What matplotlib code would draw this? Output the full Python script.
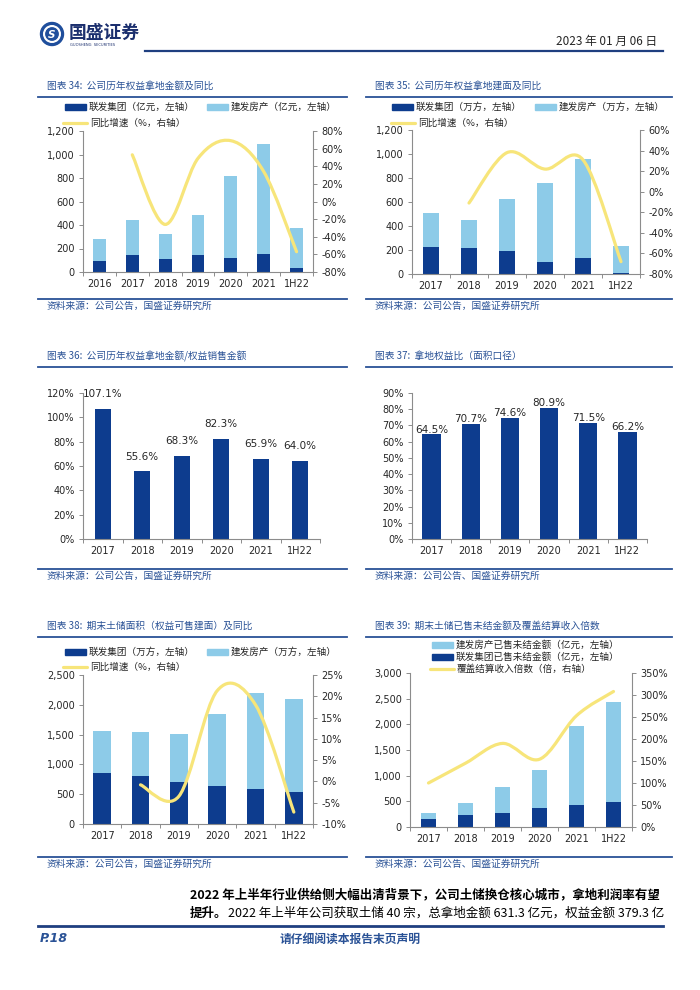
import numpy as np
import matplotlib
matplotlib.use("Agg")
import matplotlib.pyplot as plt
from matplotlib.path import Path
from matplotlib.patches import PathPatch, Rectangle, Circle
from matplotlib.ticker import FuncFormatter, FixedLocator

plt.rcParams['font.family'] = ['Noto Sans CJK SC', 'DejaVu Sans']

# ---- data ----
cats7 = ['2016', '2017', '2018', '2019', '2020', '2021', '1H22']
cats6 = ['2017', '2018', '2019', '2020', '2021', '1H22']

# 图表34 权益拿地金额（亿元）
c34_lianfa = [94, 148, 114, 142, 122, 150, 31]
c34_jianfa = [190, 292, 210, 344, 698, 938, 347]
c34_yoy = [np.nan, 53, -26, 49, 69, 34, -57]

# 图表35 权益拿地建面（万方）
c35_lianfa = [222, 214, 189, 103, 131, 11]
c35_jianfa = [284, 236, 433, 653, 825, 222]
c35_yoy = [np.nan, -11, 38, 22, 31, -68]

# 图表36 权益拿地金额/权益销售金额
c36_ratio = [107.1, 55.6, 68.3, 82.3, 65.9, 64.0]

# 图表37 拿地权益比（面积口径）
c37_ratio = [64.5, 70.7, 74.6, 80.9, 71.5, 66.2]

# 图表38 期末土储面积（万方）
c38_lianfa = [854, 798, 709, 642, 586, 541]
c38_jianfa = [714, 753, 803, 1200, 1607, 1552]
c38_yoy = [np.nan, -0.8, -3.5, 21.3, 18.0, -7.2]

# 图表39 已售未结金额（亿元）及覆盖倍数
c39_lianfa = [157, 241, 267, 372, 437, 483]
c39_jianfa = [123, 229, 503, 737, 1533, 1944]
c39_cover = [100, 145, 190, 154, 253, 308]

DARK = '#0D3C8E'
LIGHT = '#8DCBE8'
YELLOW = '#F7E57A'
NAVY = '#2A5296'
TXT = '#262626'
GRID = '#8C8C8C'

W, H = 700, 990
fig = plt.figure(figsize=(7, 9.9), dpi=100)

# overlay axes in pixel coordinates for page furniture
ov = fig.add_axes([0, 0, 1, 1])
ov.set_xlim(0, W)
ov.set_ylim(H, 0)
ov.axis('off')


def rect(l, t, r, b):
    return [l / W, 1 - b / H, (r - l) / W, (b - t) / H]


def smooth_line(ax, xs, ys, **kw):
    p = np.array([(x, y) for x, y in zip(xs, ys) if not np.isnan(y)], float)
    verts = [p[0]]
    codes = [Path.MOVETO]
    n = len(p)
    for i in range(n - 1):
        a = p[i - 1] if i > 0 else p[i]
        d = p[i + 2] if i + 2 < n else p[i + 1]
        verts += [p[i] + (p[i + 1] - a) / 6, p[i + 1] - (d - p[i]) / 6, p[i + 1]]
        codes += [Path.CURVE4] * 3
    ax.add_patch(PathPatch(Path(verts, codes), fill=False, capstyle='round', **kw))


def base_style(ax, cats):
    n = len(cats)
    ax.set_xlim(-0.5, n - 0.5)
    ax.set_xticks(np.arange(n))
    ax.set_xticklabels(cats)
    ax.xaxis.set_minor_locator(FixedLocator(np.arange(n + 1) - 0.5))
    for s in ['top', 'right']:
        ax.spines[s].set_visible(False)
    for s in ['left', 'bottom']:
        ax.spines[s].set_color(GRID)
        ax.spines[s].set_linewidth(0.8)
    ax.tick_params(axis='y', labelsize=7, length=3, width=0.7, color=GRID,
                   labelcolor=TXT, pad=3)
    ax.tick_params(axis='x', which='major', labelsize=7, length=0, labelcolor=TXT, pad=5)
    ax.tick_params(axis='x', which='minor', length=3, width=0.7, color=GRID)
    for lab in ax.get_xticklabels() + ax.get_yticklabels():
        lab.set_family('DejaVu Sans')


def combo(box, cats, dark, light, line, yticks, rticks, width):
    ax = fig.add_axes(rect(*box))
    x = np.arange(len(cats))
    ax.bar(x, dark, width, color=DARK, zorder=2)
    ax.bar(x, light, width, bottom=dark, color=LIGHT, zorder=2)
    ax.set_ylim(yticks[0], yticks[-1])
    ax.set_yticks(yticks)
    ax.yaxis.set_major_formatter(FuncFormatter(lambda v, p: f'{v:,.0f}'))
    base_style(ax, cats)
    ax2 = ax.twinx()
    ax2.set_ylim(rticks[0], rticks[-1])
    ax2.set_yticks(rticks)
    ax2.yaxis.set_major_formatter(FuncFormatter(lambda v, p: f'{v:.0f}%'))
    for s in ['top', 'left', 'bottom']:
        ax2.spines[s].set_visible(False)
    ax2.spines['right'].set_color(GRID)
    ax2.spines['right'].set_linewidth(0.8)
    ax2.tick_params(axis='y', labelsize=7, length=3, width=0.7, color=GRID,
                    labelcolor=TXT, pad=3)
    for lab in ax2.get_yticklabels():
        lab.set_family('DejaVu Sans')
    smooth_line(ax2, x, line, color=YELLOW, lw=2.3, zorder=3)
    return ax


def single(box, cats, vals, yticks, width, offset, va):
    ax = fig.add_axes(rect(*box))
    x = np.arange(len(cats))
    ax.bar(x, vals, width, color=DARK, zorder=2)
    ax.set_ylim(yticks[0], yticks[-1])
    ax.set_yticks(yticks)
    ax.yaxis.set_major_formatter(FuncFormatter(lambda v, p: f'{v:.0f}%'))
    base_style(ax, cats)
    for xi, v in zip(x, vals):
        ax.annotate(f'{v:.1f}%', (xi, v), xytext=(0, offset), textcoords='offset points',
                    ha='center', va=va, fontsize=7.5, color=TXT, family='DejaVu Sans',
                    annotation_clip=False)
    return ax


def frame(x0, x1, title, ttop, src, sline):
    ov.text(x0 + 9, ttop, title, fontsize=7, style='italic', color=NAVY,
            va='center', ha='left')
    ov.plot([x0, x1], [ttop + 11, ttop + 11], color=NAVY, lw=1.3)
    ov.plot([x0, x1], [sline, sline], color=NAVY, lw=1.3)
    ov.text(x0 + 9, sline + 7, src, fontsize=7, style='italic', color=NAVY,
            va='center', ha='left')


def leg_patch(x, y, color, label):
    ov.add_patch(Rectangle((x, y - 3), 21, 6, color=color))
    ov.text(x + 24, y, label, fontsize=6.9, color=TXT, va='center', ha='left')


def leg_line(x, y, label):
    ov.plot([x, x + 24], [y, y], color=YELLOW, lw=2.3, solid_capstyle='round')
    ov.text(x + 27, y, label, fontsize=6.9, color=TXT, va='center', ha='left')


# ---- header ----
ov.add_patch(Circle((52, 34), 11.5, color='#1F4E9C'))
ov.add_patch(Circle((52, 34), 8.3, color='white'))
ov.add_patch(Circle((52, 34), 6.2, color='#1F4E9C'))
ov.text(52, 34.5, 'S', fontsize=7.5, fontweight='bold', color='white',
        ha='center', va='center', family='DejaVu Sans', style='italic')
ov.text(69, 33, '国盛证券', fontsize=12.8, fontweight='bold', color='#1B2F6E',
        ha='left', va='center')
ov.text(70, 45, 'GUOSHENG  SECURITIES', fontsize=2.6, color='#1B2F6E',
        ha='left', va='center', family='DejaVu Sans')
ov.plot([145, 663], [51, 51], color='#1F3F80', lw=1.6)
ov.text(657, 41, '2023 年 01 月 06 日', fontsize=8.5, color=TXT, ha='right', va='center')

# ---- frames ----
frame(38, 347, '图表 34:  公司历年权益拿地金额及同比', 86, '资料来源：公司公告，国盛证券研究所', 299)
frame(366, 672, '图表 35:  公司历年权益拿地建面及同比', 86, '资料来源：公司公告，国盛证券研究所', 299)
frame(38, 347, '图表 36:  公司历年权益拿地金额/权益销售金额', 356, '资料来源：公司公告，国盛证券研究所', 569)
frame(366, 672, '图表 37:  拿地权益比（面积口径）', 356, '资料来源：公司公告、国盛证券研究所', 569)
frame(38, 347, '图表 38:  期末土储面积（权益可售建面）及同比', 626, '资料来源：公司公告，国盛证券研究所', 857)
frame(366, 672, '图表 39:  期末土储已售未结金额及覆盖结算收入倍数', 626, '资料来源：公司公告、国盛证券研究所', 857)

# ---- charts ----
combo((83, 131, 313, 272), cats7, c34_lianfa, c34_jianfa, c34_yoy,
      np.arange(0, 1201, 200), np.arange(-80, 81, 20), 0.39)
leg_patch(65, 107, DARK, '联发集团（亿元，左轴）')
leg_patch(207, 107, LIGHT, '建发房产（亿元，左轴）')
leg_line(63, 123, '同比增速（%，右轴）')

combo((412, 130, 640, 274), cats6, c35_lianfa, c35_jianfa, c35_yoy,
      np.arange(0, 1201, 200), np.arange(-80, 61, 20), 0.4)
leg_patch(392, 107, DARK, '联发集团（万方，左轴）')
leg_patch(535, 107, LIGHT, '建发房产（万方，左轴）')
leg_line(391, 123, '同比增速（%，右轴）')

single((83, 393, 320, 539), cats6, c36_ratio, np.arange(0, 121, 20), 0.4, 7, 'bottom')
single((412, 393, 647, 539), cats6, c37_ratio, np.arange(0, 91, 10), 0.47, 3.5, 'center')

combo((83, 675, 313, 824), cats6, c38_lianfa, c38_jianfa, c38_yoy,
      np.arange(0, 2501, 500), np.arange(-10, 26, 5), 0.46)
leg_patch(65, 652, DARK, '联发集团（万方，左轴）')
leg_patch(207, 652, LIGHT, '建发房产（万方，左轴）')
leg_line(63, 667, '同比增速（%，右轴）')

combo((410, 673, 632, 827), cats6, c39_lianfa, c39_jianfa, c39_cover,
      np.arange(0, 3001, 500), np.arange(0, 351, 50), 0.4)
leg_patch(432, 645, LIGHT, '建发房产已售未结金额（亿元，左轴）')
leg_patch(432, 657, DARK, '联发集团已售未结金额（亿元，左轴）')
leg_line(430, 669, '覆盖结算收入倍数（倍，右轴）')

# ---- footer ----
ov.text(190, 895, '2022 年上半年行业供给侧大幅出清背景下，公司土储换仓核心城市，拿地利润率有望',
        fontsize=9, fontweight='bold', color='black', ha='left', va='center')
t1 = ov.text(190, 913, '提升。', fontsize=9, fontweight='bold', color='black',
             ha='left', va='center')
ov.annotate('2022 年上半年公司获取土储 40 宗，总拿地金额 631.3 亿元，权益金额 379.3 亿',
            xy=(1, 0.5), xycoords=t1, fontsize=9, color='black', ha='left', va='center')
ov.plot([38, 663], [926, 926], color='#1F3F80', lw=2)
ov.text(40, 939, 'P.18', fontsize=9, fontweight='bold', style='italic', color=NAVY,
        ha='left', va='center', family='DejaVu Sans')
ov.text(350, 939, '请仔细阅读本报告末页声明', fontsize=8.5, fontweight='bold',
        style='italic', color=NAVY, ha='center', va='center')

fig.savefig('out.png', dpi=100)
